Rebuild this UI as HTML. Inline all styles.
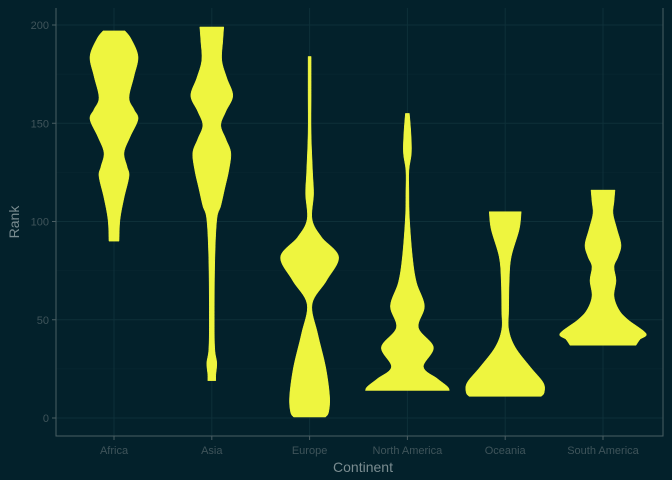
<!DOCTYPE html>
<html><head><meta charset="utf-8"><style>
html,body{margin:0;padding:0;background:#03212b;}
svg{display:block;font-family:"Liberation Sans",sans-serif;}
</style></head><body>
<svg id="chart" width="672" height="480">
<rect width="672" height="480" fill="#03212b"/>
<g id="grid"></g><g id="violins"></g><g id="axes"></g>
<text x="363" y="472" text-anchor="middle" font-size="14" fill="#7a8c90">Continent</text>
<text transform="translate(19,222) rotate(-90)" text-anchor="middle" font-size="14" fill="#7a8c90">Rank</text>
</svg>
<script>
const categories=["Africa","Asia","Europe","North America","Oceania","South America"];
const yTicks=[0,50,100,150,200];
// per-violin profiles: rank values and half-width densities (px)
const africaRank=[197,193,184,174,163,157,152,143,135,128,123,112,101,90];
const africaDens=[11,17,24,20,15,20,24,16,10,13,15,10,6,5];
const asiaRank=[199,192,182,173,164,156,149,142,135,126,117,108,101,80,50,35,28,22,19];
const asiaDens=[12,11,10,15,21,14,9,14,19,17,13,9,5,3,2.5,3,5,4,4];
const europeRank=[184,165,145,125,114,101,92,82,70,58,43,26,11,3,0.5];
const europeDens=[1.5,1.5,1.5,3,4,2.5,12,29,17,2.5,8,16,20,19,16];
const naRank=[155,145,135,126,115,102,82,69,57,46,36,26,20,16,14];
const naDens=[2,3.5,4,1.5,1.5,2,5,9,17,11,26,16,30,40,42];
const oceRank=[105,96,82,70,55,45,36,26,18,13,11];
const oceDens=[16,14,6,4,3.5,3.5,10,25,38,39,36];
const saRank=[116,110,104,96,88,82,77,70,62,55,50,43,40,37];
const saDens=[12,11,10,14,18,15,11,13,11,16,25,43,37,33];
const profiles=[[africaRank,africaDens],[asiaRank,asiaDens],[europeRank,europeDens],[naRank,naDens],[oceRank,oceDens],[saRank,saDens]];

const L=56,R=663,T=8,B=436;
const y=v=>418-v*(393/200);
const x=i=>114+i*97.8;
const NS="http://www.w3.org/2000/svg";
function mk(tag,attrs,parent){const e=document.createElementNS(NS,tag);for(const k in attrs)e.setAttribute(k,attrs[k]);parent.appendChild(e);return e;}
const grid=document.getElementById('grid'),axes=document.getElementById('axes'),vg=document.getElementById('violins');
for(let k=0;k<yTicks.length-1;k++){const m=(yTicks[k]+yTicks[k+1])/2;
 const g=mk('line',{x1:L,x2:R,y1:y(m),y2:y(m),stroke:'#0a2a33','stroke-width':0.6},grid);
 
 }
yTicks.forEach(t=>{const g=mk('line',{x1:L,x2:R,y1:y(t),y2:y(t),stroke:'#0e3039','stroke-width':1},grid);
 
 
 const tk=mk('line',{x1:L-4,x2:L,y1:y(t),y2:y(t),stroke:'#4a5e63','stroke-width':1},axes);
 
 
 const tx=mk('text',{x:L-7,y:y(t)+4,'text-anchor':'end','font-size':11,fill:'#3f545a'},axes);tx.textContent=t;
 
 });
categories.forEach((c,i)=>{const g=mk('line',{x1:x(i),x2:x(i),y1:T,y2:B,stroke:'#0e3039','stroke-width':1},grid);
 
 
 const tk=mk('line',{x1:x(i),x2:x(i),y1:B,y2:B+4,stroke:'#4a5e63','stroke-width':1},axes);
 
 
 const tx=mk('text',{x:x(i),y:B+18,'text-anchor':'middle','font-size':11,fill:'#3f545a'},axes);tx.textContent=c;
 
 });
mk('polyline',{points:`${L},${T} ${L},${B} ${R},${B} ${R},${T}`,fill:'none',stroke:'#4a5e63','stroke-width':1},axes);
const frame=axes.lastChild;


function smooth(pts){let d=`M${pts[0][0]},${pts[0][1]}`;
 for(let i=0;i<pts.length-1;i++){const p0=pts[Math.max(0,i-1)],p1=pts[i],p2=pts[i+1],p3=pts[Math.min(pts.length-1,i+2)];
  d+=` C${p1[0]+(p2[0]-p0[0])/6},${p1[1]+(p2[1]-p0[1])/6} ${p2[0]-(p3[0]-p1[0])/6},${p2[1]-(p3[1]-p1[1])/6} ${p2[0]},${p2[1]}`;}
 return d;}
profiles.forEach((p,i)=>{const [rk,dn]=p,cx=x(i);
 const right=rk.map((r,j)=>[cx+dn[j],y(r)]);
 const left=rk.map((r,j)=>[cx-dn[j],y(r)]).reverse();
 let d=smooth(right);d+=` L${left[0][0]},${left[0][1]}`+smooth(left).replace(/^M[^C]*/,' ')+' Z';
 const v=mk('path',{d:d,fill:'#eef53f',stroke:'#eef53f','stroke-width':0.5},vg);
 
 });
</script>
</body></html>
